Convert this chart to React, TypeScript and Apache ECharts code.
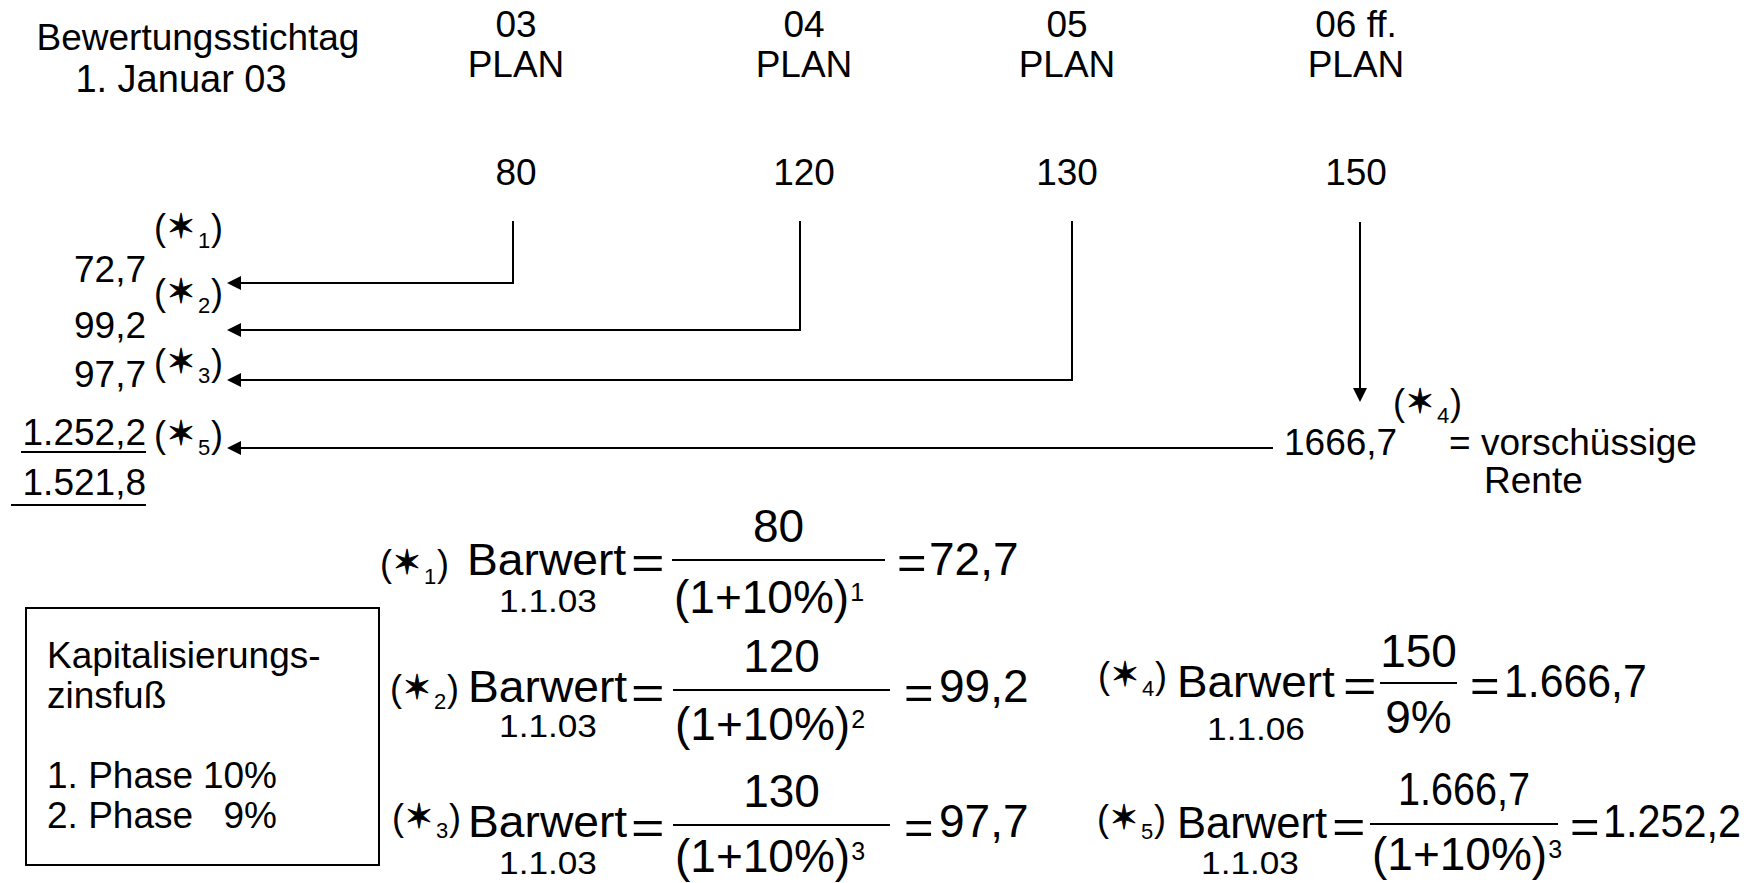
import React, { useEffect, useRef } from "react";
import * as echarts from "echarts";

const W = 1746;
const H = 883;

// ---------------- data ----------------
const valuationDateLines = ["Bewertungsstichtag", "1. Januar 03"];
const planYears = ["03", "04", "05", "06 ff."];
const planLabel = "PLAN";
const planCashFlows = [80, 120, 130, 150];
const discountExponents = [1, 2, 3];
const presentValues = [72.7, 99.2, 97.7];
const perpetuityValue = 1666.7;
const perpetuityPresentValue = 1252.2;
const enterpriseValue = 1521.8;
const phaseRates = [10, 9];
const phaseLabels = ["1. Phase", "2. Phase"];
const boxTitleLines = ["Kapitalisierungs-", "zinsfuß"];
const valuationDate = "1.1.03";
const perpetuityDate = "1.1.06";
const renteLines = ["= vorschüssige", "Rente"];
const formulaWord = "Barwert";

// ---------------- layout (pixels) ----------------
const FONT = '"Liberation Sans", Arial, Helvetica, sans-serif';
const STAR_FONT = '"DejaVu Sans", "Noto Sans", sans-serif';
const colTextX = [516, 804, 1067, 1356];
const colLineX = [513, 800, 1072, 1360];
const headerY = [24, 64];
const flowY = 172;
const stemTop = 222;
const arrowY = [283, 330, 380];
const perpArrowTipY = 402;
const pvArrowY = 448;
const pvArrowStartX = 1273;
const arrowTipX = 227;
const headSize = 14;
const leftRightEdge = 146;
const leftValueY = [269, 325, 374, 432, 482];
const leftStarX = 154;
const leftStarY = [227, 292, 362, 434];

const formulaLayouts = [
  { star: 380, yStar: 563, bw: 467, bwScale: 1.05, eq: 631, l: 672, r: 885, resEq: 897, res: 929, date: 548, yB: 560, yLine: 560, yNum: 526, yDen: 597, yDate: 601, yRes: 559, numScale: 1, resScale: 1 },
  { star: 390, yStar: 688, bw: 468, bwScale: 1.05, eq: 631, l: 673, r: 890, resEq: 904, res: 939, date: 548, yB: 687, yLine: 690, yNum: 656, yDen: 724, yDate: 726, yRes: 686, numScale: 1, resScale: 1 },
  { star: 392, yStar: 817, bw: 468, bwScale: 1.05, eq: 631, l: 673, r: 890, resEq: 904, res: 939, date: 548, yB: 822, yLine: 825, yNum: 791, yDen: 856, yDate: 863, yRes: 821, numScale: 1, resScale: 1 },
  { star: 1098, yStar: 675, bw: 1177, bwScale: 1.04, eq: 1343, l: 1380, r: 1457, resEq: 1470, res: 1504, date: 1256, yB: 682, yLine: 683, yNum: 651, yDen: 717, yDate: 729, yRes: 681, numScale: 1, resScale: 0.93 },
  { star: 1097, yStar: 818, bw: 1177, bwScale: 0.99, eq: 1332, l: 1370, r: 1558, resEq: 1570, res: 1603, date: 1250, yB: 822, yLine: 824, yNum: 789, yDen: 854, yDate: 863, yRes: 821, numScale: 0.86, resScale: 0.9 },
];

function de(v: number, grouping = true): string {
  const [i, d] = v.toFixed(1).split(".");
  const ig = grouping ? i.replace(/\B(?=(\d{3})+(?!\d))/g, ".") : i;
  return ig + "," + d;
}

let measureCtx: CanvasRenderingContext2D | null = null;
function measure(text: string, font: string): number {
  if (!measureCtx) measureCtx = document.createElement("canvas").getContext("2d");
  measureCtx!.font = font;
  return measureCtx!.measureText(text).width;
}

function fontStr(size: number, family = FONT) {
  return `${size}px ${family}`;
}

function txt(
  text: string,
  x: number,
  y: number,
  size: number,
  opts: { align?: string; family?: string; scaleX?: number; bold?: boolean } = {}
) {
  const align = opts.align ?? "left";
  const style: any = {
    text,
    fill: "#000",
    font: fontStr(size, opts.family ?? FONT),
    align,
    verticalAlign: "middle",
    textAlign: align,
    textVerticalAlign: "middle",
  };
  if (opts.bold) {
    style.stroke = "#000";
    style.lineWidth = 1;
  }
  return { type: "text", x, y, scaleX: opts.scaleX ?? 1, silent: true, style };
}

function hline(x1: number, x2: number, y: number, w = 2) {
  return {
    type: "line",
    silent: true,
    shape: { x1, y1: y, x2, y2: y },
    style: { stroke: "#000", lineWidth: w },
  };
}

function starLabel(k: number, x: number, y: number) {
  return [
    txt("(", x, y, 36),
    txt("\u2736", x + 27, y - 1, 34, { align: "center", family: STAR_FONT, bold: true }),
    txt(String(k), x + 44, y + 13, 22),
    txt(")", x + 57, y, 36),
  ];
}

function buildFormula(
  idx: number,
  starNo: number,
  num: string,
  den: string,
  exp: number | null,
  date: string,
  result: string
) {
  const L = formulaLayouts[idx];
  const els: any[] = [];
  els.push(...starLabel(starNo, L.star, L.yStar));
  els.push(txt(formulaWord, L.bw, L.yB, 44, { scaleX: L.bwScale }));
  els.push(txt("=", L.eq, L.yLine + 3, 46, { scaleX: 1.25 }));
  els.push(hline(L.l, L.r, L.yLine, 2));
  const cx = (L.l + L.r) / 2;
  els.push(txt(num, cx, L.yNum, 46, { align: "center", scaleX: L.numScale }));
  if (exp == null) {
    els.push(txt(den, cx, L.yDen, 46, { align: "center" }));
  } else {
    const left = L.l + 2;
    const wDen = measure(den, fontStr(46));
    els.push(txt(den, left, L.yDen, 46));
    els.push(txt(String(exp), left + wDen + 1, L.yDen - 5, 25));
  }
  els.push(txt(date, L.date, L.yDate, 32, { align: "center", scaleX: 1.1 }));
  els.push(txt("=", L.resEq, L.yLine + 3, 46, { scaleX: 1.1 }));
  els.push(txt(result, L.res, L.yRes, 46, { scaleX: L.resScale }));
  return els;
}

function buildOption() {
  const g: any[] = [];

  // header
  g.push(txt(valuationDateLines[0], 198, 37, 37, { align: "center" }));
  g.push(txt(valuationDateLines[1], 181, 79, 38, { align: "center" }));
  planYears.forEach((y, i) => {
    g.push(txt(y, colTextX[i], headerY[0], 37, { align: "center" }));
    g.push(txt(planLabel, colTextX[i], headerY[1], 37, { align: "center" }));
    g.push(txt(String(planCashFlows[i]), colTextX[i], flowY, 37, { align: "center" }));
  });

  // left column: present values
  const leftValues = [
    de(presentValues[0]),
    de(presentValues[1]),
    de(presentValues[2]),
    de(perpetuityPresentValue),
    de(enterpriseValue),
  ];
  leftValues.forEach((s, i) => g.push(txt(s, leftRightEdge, leftValueY[i], 37, { align: "right" })));
  g.push(hline(21, leftRightEdge, 452, 2));
  g.push(hline(11, leftRightEdge, 505, 2));
  [1, 2, 3, 5].forEach((k, i) => g.push(...starLabel(k, leftStarX, leftStarY[i])));

  // right side: perpetuity
  g.push(...starLabel(4, 1393, 402));
  g.push(txt(de(perpetuityValue, false), 1284, 442, 37));
  g.push(txt(renteLines[0], 1449, 442, 37));
  g.push(txt(renteLines[1], 1484, 480, 37));

  // box
  g.push({
    type: "rect",
    silent: true,
    shape: { x: 26, y: 608, width: 353, height: 257 },
    style: { fill: "transparent", stroke: "#000", lineWidth: 2 },
  });
  g.push(txt(boxTitleLines[0], 47, 655, 37));
  g.push(txt(boxTitleLines[1], 47, 695, 37));
  phaseLabels.forEach((p, i) => {
    g.push(txt(p, 47, 775 + i * 40, 37));
    g.push(txt(`${phaseRates[i]}%`, 277, 775 + i * 40, 37, { align: "right" }));
  });

  // formulas
  const den1 = `(1+${phaseRates[0]}%)`;
  for (let i = 0; i < 3; i++) {
    g.push(
      ...buildFormula(i, i + 1, String(planCashFlows[i]), den1, discountExponents[i], valuationDate, de(presentValues[i]))
    );
  }
  g.push(
    ...buildFormula(3, 4, String(planCashFlows[3]), `${phaseRates[1]}%`, null, perpetuityDate, de(perpetuityValue))
  );
  g.push(
    ...buildFormula(4, 5, de(perpetuityValue), den1, discountExponents[2], valuationDate, de(perpetuityPresentValue))
  );

  // connector lines (data coordinates of the hidden pixel grid)
  const off = headSize / 2;
  const stems = [0, 1, 2].map((i) => ({ coords: [[colLineX[i], stemTop], [colLineX[i], arrowY[i]]] }));
  const arrows = [
    ...[0, 1, 2].map((i) => ({ coords: [[colLineX[i], arrowY[i]], [arrowTipX + off, arrowY[i]]] })),
    { coords: [[colLineX[3], stemTop], [colLineX[3], perpArrowTipY - off]] },
    { coords: [[pvArrowStartX, pvArrowY], [arrowTipX + off, pvArrowY]] },
  ];

  return {
    animation: false,
    backgroundColor: "#ffffff",
    grid: { left: 0, right: 0, top: 0, bottom: 0 },
    xAxis: { type: "value", min: 0, max: W, show: false },
    yAxis: { type: "value", min: 0, max: H, inverse: true, show: false },
    series: [
      {
        type: "lines",
        coordinateSystem: "cartesian2d",
        symbol: "none",
        silent: true,
        lineStyle: { color: "#000", width: 2, opacity: 1, cap: "square" },
        data: stems,
      },
      {
        type: "lines",
        coordinateSystem: "cartesian2d",
        symbol: ["none", "triangle"],
        symbolSize: headSize,
        silent: true,
        lineStyle: { color: "#000", width: 2, opacity: 1 },
        data: arrows,
      },
    ],
    graphic: { elements: g },
  };
}

export default function App() {
  const ref = useRef<HTMLDivElement>(null);
  useEffect(() => {
    document.body.style.margin = "0";
    document.body.style.overflow = "hidden";
    const chart = echarts.init(ref.current!, undefined, { renderer: "svg", width: W, height: H });
    chart.setOption(buildOption() as any);
    return () => chart.dispose();
  }, []);
  return <div ref={ref} style={{ width: W, height: H }} />;
}
